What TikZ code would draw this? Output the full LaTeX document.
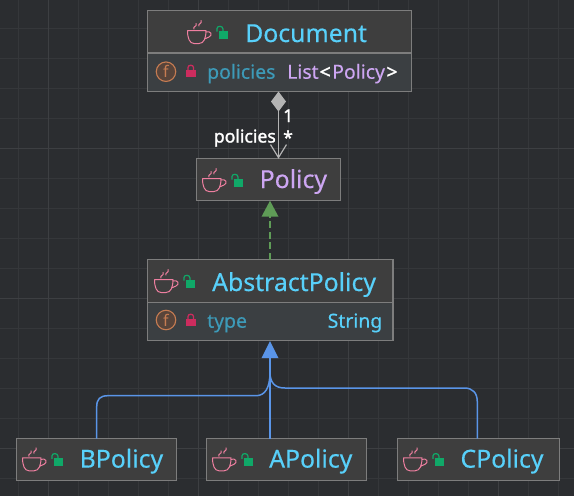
\documentclass[tikz,border=0pt]{standalone}
\usepackage{fontspec}
\setmainfont{Noto Sans}
\newfontfamily\heavyf[FakeBold=1.6]{Noto Sans}
\newfontfamily\midf[FakeBold=0.35]{Noto Sans}
\usetikzlibrary{arrows.meta,calc}
\definecolor{bg}{HTML}{2B2D30}
\definecolor{gridc}{HTML}{35373A}
\definecolor{gridm}{HTML}{3D3F42}
\definecolor{boxf}{HTML}{3E3E3E}
\definecolor{fieldf}{HTML}{3B3F42}
\definecolor{boxd}{HTML}{7D7D7D}
\definecolor{cyanT}{HTML}{58D0FA}
\definecolor{purpT}{HTML}{CDA6F2}
\definecolor{fieldT}{HTML}{3D9AB8}
\definecolor{cupc}{HTML}{EE7FA0}
\definecolor{lockg}{HTML}{10A868}
\definecolor{lockr}{HTML}{CC2C5E}
\definecolor{fring}{HTML}{C67C52}
\definecolor{ffill}{HTML}{58443A}
\definecolor{blueL}{HTML}{5A95E8}
\definecolor{greenL}{HTML}{5F9C57}
\definecolor{grayL}{HTML}{B4B4B4}
\tikzset{
  x=1pt,y=-1pt,
  boxn/.style={draw=boxd,fill=boxf,line width=1.3pt,inner sep=0pt,outer sep=0pt,anchor=north west},
  title/.style={anchor=base west,inner sep=0pt,font=\midf\fontsize{24.8}{28}\selectfont,text=cyanT},
  fieldn/.style={anchor=base west,inner sep=0pt,font=\midf\fontsize{19.4}{22}\selectfont,text=fieldT},
  lbl/.style={inner sep=0pt,font=\heavyf\fontsize{17.6}{20}\selectfont,text=white},
  fbadge/.style={circle,draw=fring,fill=ffill,line width=1.1pt,minimum size=19.5pt,inner sep=0pt,font=\fontsize{16}{16}\selectfont,text=fring},
  classicon/.pic={
    \draw[cupc,line width=1pt,line cap=round,line join=round]
      (0.5,10.5) -- (19,10.5) .. controls (19,18) and (17,23.5) .. (12,23.5) -- (7,23.5) .. controls (2.5,23.5) and (0.5,18) .. (0.5,10.5)
      (19,12) .. controls (24,10.5) and (26,15) .. (22,17) -- (17.5,19)
      (7,9) .. controls (5,6.5) and (11,6.5) .. (9,3.5)
      (12,6) .. controls (10,4) and (16,3.5) .. (14,0.5);
    \fill[lockg] (32,10.5) rectangle (41,18.5);
    \draw[lockg,line width=1.2pt] (30,11.5) -- (30,8.5) .. controls (30,5.5) and (36,5.5) .. (36,9) -- (36,11);
  },
  privlock/.pic={
    \fill[lockr] (0,5) rectangle (9.5,12.5);
    \draw[lockr,line width=1.3pt] (2,5.5) -- (2,3) .. controls (2,0) and (7.5,0) .. (7.5,3) -- (7.5,5.5);
  }
}
\begin{document}
\begin{tikzpicture}
\useasboundingbox (0,0) rectangle (574,496);
\fill[bg] (0,0) rectangle (574,496);
% grid
\foreach \gx in {18,48,...,570}{\draw[gridc,line width=0.8pt] (\gx,0) -- (\gx,496);}
\foreach \gy in {28,58,...,490}{\draw[gridc,line width=0.8pt] (0,\gy) -- (574,\gy);}
\foreach \gx in {48,198,348,498}{\draw[gridm,line width=0.9pt] (\gx,0) -- (\gx,496);}
\foreach \gy in {148,298,448}{\draw[gridm,line width=0.9pt] (0,\gy) -- (574,\gy);}

% boxes
\node[boxn,minimum width=264pt,minimum height=81pt] (doc) at (147.5,10.5) {};
\fill[fieldf] (148.2,53) rectangle (410.8,90.8);
\draw[boxd,line width=1.5pt] (147.5,53) -- (411.5,53);
\draw[boxd,line width=1.3pt] (147.5,10.5) rectangle (411.5,91.5);
\node[boxn,minimum width=143.5pt,minimum height=41.5pt] (pol) at (196.7,158.7) {};
\node[boxn,minimum width=245.5pt,minimum height=81pt] (abs) at (147.5,259.5) {};
\fill[fieldf] (148.2,302.5) rectangle (392.3,339.8);
\draw[boxd,line width=1.5pt] (147.5,302.5) -- (393,302.5);
\draw[boxd,line width=1.3pt] (147.5,259.5) rectangle (393,340.5);
\node[boxn,minimum width=159.5pt,minimum height=41.5pt] (bp) at (16.7,438.7) {};
\node[boxn,minimum width=159.5pt,minimum height=41.5pt] (ap) at (206.7,438.7) {};
\node[boxn,minimum width=161.5pt,minimum height=41.5pt] (cp) at (397.7,438.7) {};

% connectors
\coordinate (dtop) at (278.5,91.5);
\coordinate (ptop) at (278.5,158.5);
\draw[grayL,line width=1.3pt,{Diamond[length=20pt,width=15pt,fill=grayL]}-{Straight Barb[length=13pt,width=16pt,line width=1.2pt]}] (doc.south -| dtop) -- (pol.north -| ptop);
\coordinate (gx) at (270,0);
\draw[greenL,line width=1.2pt,dash pattern=on 7pt off 3.5pt] (abs.north -| gx) -- ($(pol.south -| gx)+(0,15)$);
\fill[greenL] (pol.south -| gx) ++(0,0.5) -- ++(8.5,16) -- ++(-17,0) -- cycle;
\coordinate (bx) at (96.7,0);
\coordinate (cx) at (477.3,0);
\draw[blueL,line width=1.5pt] (ap.north -| gx) -- ($(abs.south -| gx)+(0,15)$);
\draw[blueL,line width=1.5pt] (bp.north -| bx) -- (96.7,407) .. controls (96.7,399) and (100,395.7) .. (108,395.7) -- (256,395.7) .. controls (265,395.7) and (270,388) .. (270,372);
\draw[blueL,line width=1.5pt] (cp.north -| cx) -- (477.3,402) .. controls (477.3,393) and (473,388) .. (464,388) -- (285,388) .. controls (275,388) and (270,383) .. (270,372);
\fill[blueL] (abs.south -| gx) ++(0,0.5) -- ++(8.5,17) -- ++(-17,0) -- cycle;

% edge labels
\node[lbl,anchor=base east] (lp) at (276,142.5) {policies};
\node[lbl,anchor=base west] (l1) at (283,122) {1};
\node[lbl,anchor=base west] (ls) at (283,144) {*};

% icons
\pic at (187,20) {classicon};
\pic at (202,168) {classicon};
\pic at (154,269) {classicon};
\pic at (22,447.3) {classicon};
\pic at (212,447.3) {classicon};
\pic at (403,447.3) {classicon};
\pic at (186,64.5) {privlock};
\pic at (186,313.5) {privlock};
\node[fbadge] (f1) at (166,71.7) {f};
\node[fbadge] (f2) at (166,320) {f};

% texts
\node[title] (t1) at (245,42) {Document};
\node[title,text=purpT] (t2) at (259.5,188) {Policy};
\node[title] (t3) at (212,291) {AbstractPolicy};
\node[title] (t4) at (79.5,467.6) {BPolicy};
\node[title] (t5) at (269,467.6) {APolicy};
\node[title] (t6) at (460.3,467.6) {CPolicy};
\node[fieldn] (n1) at (207,78.7) {policies};
\node[fieldn,text=purpT] (n2) at (287,78.7) {List\kern1pt\textcolor{white}{{\heavyf<}}\kern1.5ptPolicy\kern1.5pt\textcolor{white}{{\heavyf>}}};
\node[fieldn] (n3) at (207,327.7) {type};
\node[fieldn,anchor=base east,text=cyanT] (n4) at (382.5,327.7) {String};
\end{tikzpicture}
\end{document}
